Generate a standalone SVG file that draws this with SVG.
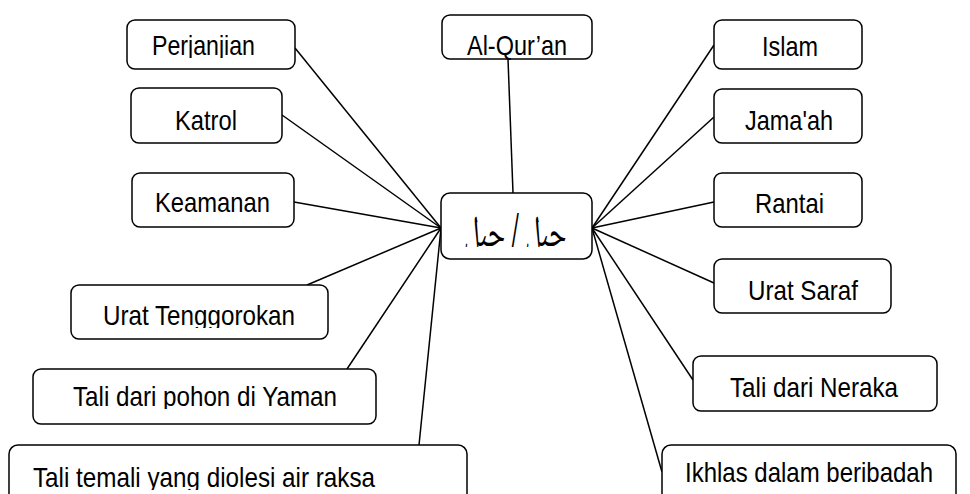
<svg xmlns="http://www.w3.org/2000/svg" width="970" height="494" viewBox="0 0 970 494">
<style>
.box{fill:#fff;stroke:#000;stroke-width:1.5}
.lbl{font-family:"Liberation Sans",Arial,sans-serif;font-size:28px;fill:#000;text-anchor:middle}
.ar{font-family:"Noto Naskh Arabic","Noto Sans Arabic","DejaVu Sans",sans-serif;font-size:44px;fill:#000;text-anchor:middle}
#connectors line{stroke:#000;stroke-width:1.5}
</style>
<defs>
<clipPath id="c1"><rect x="127" y="20" width="168" height="38"/></clipPath>
<clipPath id="c11"><rect x="71" y="285" width="257" height="43"/></clipPath>
<clipPath id="c12"><rect x="33" y="369" width="343" height="40"/></clipPath>
<clipPath id="c13"><rect x="9" y="445" width="458" height="45"/></clipPath>
<clipPath id="c14"><rect x="441" y="193" width="151" height="54"/></clipPath>
</defs>
<g id="connectors">
<line x1="295" y1="48" x2="441" y2="228"/>
<line x1="282" y1="115" x2="441" y2="228"/>
<line x1="294" y1="202" x2="441" y2="228"/>
<line x1="307" y1="285" x2="441" y2="228"/>
<line x1="347" y1="369" x2="441" y2="228"/>
<line x1="419" y1="445" x2="441" y2="228"/>
<line x1="508" y1="59" x2="513" y2="193"/>
<line x1="714" y1="45" x2="592" y2="228"/>
<line x1="714" y1="117" x2="592" y2="228"/>
<line x1="714" y1="202" x2="592" y2="228"/>
<line x1="714" y1="283" x2="592" y2="228"/>
<line x1="693" y1="380" x2="592" y2="228"/>
<line x1="662" y1="472" x2="592" y2="228"/>
</g>
<g id="center"><rect class="box" x="441" y="193" width="151" height="66" rx="9"/><g clip-path="url(#c14)"><text class="ar" transform="translate(515 246) scale(0.62 1)">حبل / حبل</text></g></g>
<g id="perjanjian"><rect class="box" x="127" y="20" width="168" height="49" rx="8"/><text class="lbl" x="203.5" y="55" textLength="103" lengthAdjust="spacingAndGlyphs" clip-path="url(#c1)">Perjanjian</text></g>
<g id="alquran"><rect class="box" x="442" y="15" width="150" height="44" rx="8"/><text class="lbl" x="517" y="55" textLength="100" lengthAdjust="spacingAndGlyphs">Al-Qur’an</text></g>
<g id="islam"><rect class="box" x="714" y="20" width="148" height="49" rx="8"/><text class="lbl" x="790" y="56" textLength="56" lengthAdjust="spacingAndGlyphs">Islam</text></g>
<g id="jamaah"><rect class="box" x="714" y="89" width="148" height="54" rx="8"/><text class="lbl" x="789" y="130" textLength="88" lengthAdjust="spacingAndGlyphs">Jama'ah</text></g>
<g id="rantai"><rect class="box" x="714" y="173" width="148" height="54" rx="8"/><text class="lbl" x="789.5" y="213" textLength="69" lengthAdjust="spacingAndGlyphs">Rantai</text></g>
<g id="uratsaraf"><rect class="box" x="714" y="259" width="177" height="54" rx="8"/><text class="lbl" x="803" y="300" textLength="110" lengthAdjust="spacingAndGlyphs">Urat Saraf</text></g>
<g id="neraka"><rect class="box" x="693" y="356" width="244" height="55" rx="8"/><text class="lbl" x="814" y="397" textLength="168" lengthAdjust="spacingAndGlyphs">Tali dari Neraka</text></g>
<g id="ikhlas"><rect class="box" x="662" y="445" width="294" height="75" rx="9"/><text class="lbl" x="809" y="482" textLength="248" lengthAdjust="spacingAndGlyphs">Ikhlas dalam beribadah</text></g>
<g id="katrol"><rect class="box" x="131" y="88" width="151" height="55" rx="8"/><text class="lbl" x="206" y="130" textLength="62" lengthAdjust="spacingAndGlyphs">Katrol</text></g>
<g id="keamanan"><rect class="box" x="132" y="173" width="162" height="54" rx="8"/><text class="lbl" x="212.5" y="212" textLength="115" lengthAdjust="spacingAndGlyphs">Keamanan</text></g>
<g id="urattenggorokan"><rect class="box" x="71" y="285" width="257" height="54" rx="8"/><text class="lbl" x="199" y="325" textLength="192" lengthAdjust="spacingAndGlyphs" clip-path="url(#c11)">Urat Tenggorokan</text></g>
<g id="talipohon"><rect class="box" x="33" y="369" width="343" height="55" rx="8"/><text class="lbl" x="205" y="406" textLength="264" lengthAdjust="spacingAndGlyphs" clip-path="url(#c12)">Tali dari pohon di Yaman</text></g>
<g id="talitemali"><rect class="box" x="9" y="445" width="458" height="75" rx="9"/><text class="lbl" x="204" y="487" textLength="342" lengthAdjust="spacingAndGlyphs" clip-path="url(#c13)">Tali temali yang diolesi air raksa</text></g>
</svg>
